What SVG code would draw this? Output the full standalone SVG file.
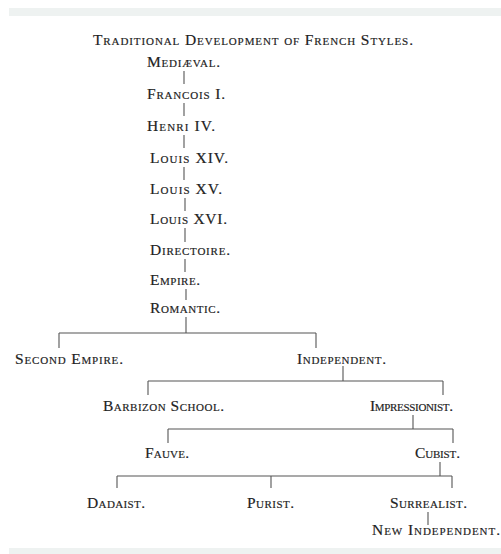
<svg xmlns="http://www.w3.org/2000/svg" width="501" height="554" viewBox="0 0 501 554">
<style>
text{font-family:"Liberation Serif","Times New Roman",serif;font-variant:small-caps;font-size:15.5px;fill:#222;stroke:#222;stroke-width:0.18}
.c line{stroke:#555;stroke-width:1.1}
</style>
<rect width="501" height="554" fill="#fff"/>
<rect x="9" y="8" width="492" height="8" fill="#eef2f1"/>
<rect x="9" y="548" width="492" height="6" fill="#eef2f1"/>
<text id="title" x="93" y="45" textLength="320">Traditional Development of French Styles.</text>
<g class="c">
<line x1="184" y1="71" x2="184" y2="84"/>
<line x1="184" y1="103" x2="184" y2="116"/>
<line x1="184" y1="135" x2="184" y2="148"/>
<line x1="184" y1="167" x2="184" y2="180"/>
<line x1="185" y1="198" x2="185" y2="211"/>
<line x1="185" y1="228" x2="185" y2="242"/>
<line x1="185" y1="259" x2="185" y2="272"/>
<line x1="186" y1="289" x2="186" y2="300"/>
<line x1="186" y1="317" x2="186" y2="333"/>
<line x1="59" y1="333" x2="316" y2="333"/>
<line x1="59" y1="333" x2="59" y2="348"/>
<line x1="316" y1="333" x2="316" y2="348"/>
<line x1="343" y1="366" x2="343" y2="381"/>
<line x1="148" y1="381" x2="443" y2="381"/>
<line x1="148" y1="381" x2="148" y2="395"/>
<line x1="443" y1="381" x2="443" y2="395"/>
<line x1="413" y1="415" x2="413" y2="429"/>
<line x1="168" y1="429" x2="453" y2="429"/>
<line x1="168" y1="429" x2="168" y2="443"/>
<line x1="453" y1="429" x2="453" y2="443"/>
<line x1="440" y1="462" x2="440" y2="476"/>
<line x1="117" y1="476" x2="452" y2="476"/>
<line x1="117" y1="476" x2="117" y2="488"/>
<line x1="271" y1="476" x2="271" y2="488"/>
<line x1="452" y1="476" x2="452" y2="488"/>
<line x1="428" y1="512" x2="428" y2="525"/>
</g>
<g id="n-medieval"><text x="147" y="67" textLength="73">Mediæval.</text></g>
<g id="n-francois"><text x="147" y="99" textLength="78">Francois I.</text></g>
<g id="n-henri"><text x="147" y="131" textLength="68">Henri IV.</text></g>
<g id="n-louis14"><text x="150" y="163" textLength="78">Louis XIV.</text></g>
<g id="n-louis15"><text x="150" y="194" textLength="72">Louis XV.</text></g>
<g id="n-louis16"><text x="150" y="224" textLength="77">Louis XVI.</text></g>
<g id="n-directoire"><text x="150" y="255" textLength="80">Directoire.</text></g>
<g id="n-empire"><text x="150" y="285" textLength="50">Empire.</text></g>
<g id="n-romantic"><text x="150" y="313" textLength="70">Romantic.</text></g>
<g id="n-second-empire"><text x="15" y="364" textLength="108">Second Empire.</text></g>
<g id="n-independent"><text x="297" y="364" textLength="89">Independent.</text></g>
<g id="n-barbizon"><text x="103" y="411" textLength="121">Barbizon School.</text></g>
<g id="n-impressionist"><text x="370" y="411" textLength="83">Impressionist.</text></g>
<g id="n-fauve"><text x="145" y="458" textLength="44">Fauve.</text></g>
<g id="n-cubist"><text x="415" y="458" textLength="45">Cubist.</text></g>
<g id="n-dadaist"><text x="87" y="508" textLength="58">Dadaist.</text></g>
<g id="n-purist"><text x="247" y="508" textLength="47">Purist.</text></g>
<g id="n-surrealist"><text x="390" y="508" textLength="77">Surrealist.</text></g>
<g id="n-new-independent"><text x="372" y="535" textLength="128">New Independent.</text></g>
</svg>
